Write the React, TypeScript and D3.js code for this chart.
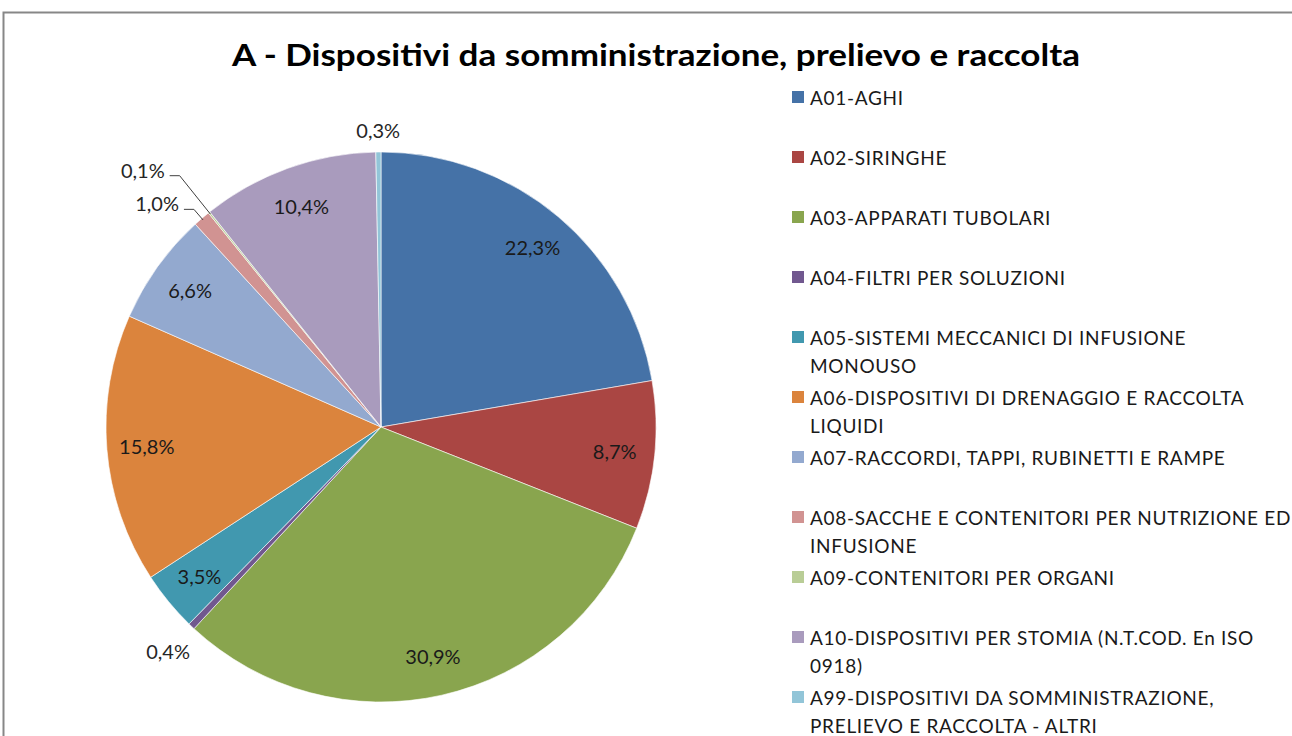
import React from "react";
import * as d3 from "d3";

const TITLE = "A - Dispositivi da somministrazione, prelievo e raccolta";

const categories = [
  "A01-AGHI",
  "A02-SIRINGHE",
  "A03-APPARATI TUBOLARI",
  "A04-FILTRI PER SOLUZIONI",
  "A05-SISTEMI MECCANICI DI INFUSIONE MONOUSO",
  "A06-DISPOSITIVI DI DRENAGGIO E RACCOLTA LIQUIDI",
  "A07-RACCORDI, TAPPI, RUBINETTI E RAMPE",
  "A08-SACCHE E CONTENITORI PER NUTRIZIONE ED INFUSIONE",
  "A09-CONTENITORI PER ORGANI",
  "A10-DISPOSITIVI PER STOMIA (N.T.COD. En ISO 0918)",
  "A99-DISPOSITIVI DA SOMMINISTRAZIONE, PRELIEVO E RACCOLTA - ALTRI",
];

const values = [22.3, 8.7, 30.9, 0.4, 3.5, 15.8, 6.6, 1.0, 0.1, 10.4, 0.3];

const colors = [
  "#4572A7",
  "#AA4643",
  "#89A54E",
  "#71588F",
  "#4198AF",
  "#DB843D",
  "#93A9CF",
  "#D19392",
  "#B9CD96",
  "#A99BBD",
  "#92C5D8",
];

// label placement rules (layout, not data)
const outsideOffset: Record<string, number> = {
  "A04-FILTRI PER SOLUZIONI": 34,
  "A99-DISPOSITIVI DA SOMMINISTRAZIONE, PRELIEVO E RACCOLTA - ALTRI": 22,
};
const leaderOffset: Record<string, number> = {
  "A08-SACCHE E CONTENITORI PER NUTRIZIONE ED INFUSIONE": 12,
  "A09-CONTENITORI PER ORGANI": 47,
};

const FONT = "Lato, 'Open Sans', sans-serif";
const W = 1292;
const H = 736;
const CX = 381;
const CY = 427;
const R = 275;
const LABEL_R = 235;
const LEGEND_FS = 19;
const LEGEND_LS = 0.7;
const LABEL_FS = 20;
const LEGEND_MAX_W = 484;

const fmt = (v: number) => v.toFixed(1).replace(".", ",") + "%";

function wrap(text: string, maxWidth: number): string[] {
  const canvas = document.createElement("canvas");
  const ctx = canvas.getContext("2d")! as any;
  ctx.font = `${LEGEND_FS}px Lato`;
  const measure = (s: string) => ctx.measureText(s).width + s.length * LEGEND_LS;
  const words = text.split(" ");
  const lines: string[] = [];
  let cur = "";
  for (const w of words) {
    const test = cur ? cur + " " + w : w;
    if (measure(test) > maxWidth && cur) {
      lines.push(cur);
      cur = w;
    } else cur = test;
  }
  if (cur) lines.push(cur);
  return lines;
}

export default function App() {
  const data = categories.map((c, i) => ({ name: c, value: values[i], color: colors[i] }));
  const pie = d3
    .pie<any>()
    .sort(null)
    .value((d) => d.value)
    .startAngle(0)
    .endAngle(2 * Math.PI);
  const arcs = pie(data);
  const arc = d3.arc<any>().innerRadius(0).outerRadius(R);
  const polar = (a: number, r: number): [number, number] => [Math.sin(a) * r, -Math.cos(a) * r];

  const legendY = d3.scaleLinear().domain([0, 1]).range([97, 157]);

  return (
    <svg
      width={W}
      height={H}
      style={{ position: "absolute", left: 0, top: 0, background: "#fff" }}
      fontFamily={FONT}
    >
      <rect x={0} y={0} width={W} height={H} fill="#fff" />
      <rect x={3.5} y={12.5} width={W + 20} height={H + 20} fill="none" stroke="#878787" strokeWidth={2} />
      <text
        x={656}
        y={66}
        textAnchor="middle"
        fontSize={30}
        fontWeight="bold"
        fill="#000"
        textLength={848}
        lengthAdjust="spacingAndGlyphs"
      >
        {TITLE}
      </text>

      <g transform={`translate(${CX},${CY})`}>
        {arcs.map((a, i) => (
          <path key={i} d={arc(a) as string} fill={a.data.color} stroke="#fff" strokeWidth={0.6} />
        ))}
        {arcs.map((a, i) => {
          const mid = (a.startAngle + a.endAngle) / 2;
          const name = a.data.name;
          const label = fmt(a.data.value);
          if (leaderOffset[name] !== undefined) {
            const [x0, y0] = polar(mid, R - 2);
            const [x1, y1] = polar(mid, R + leaderOffset[name]);
            const x2 = x1 - 10;
            return (
              <g key={"l" + i}>
                <polyline
                  points={`${x0},${y0} ${x1},${y1} ${x2},${y1}`}
                  fill="none"
                  stroke="#404040"
                  strokeWidth={1}
                />
                <text
                  x={x2 - 5}
                  y={y1 - 6}
                  textAnchor="end"
                  dominantBaseline="central"
                  fontSize={LABEL_FS}
                  fill="#262626"
                >
                  {label}
                </text>
              </g>
            );
          }
          if (outsideOffset[name] !== undefined) {
            const [x, y] = polar(mid, R + outsideOffset[name]);
            return (
              <text
                key={"l" + i}
                x={x}
                y={y}
                textAnchor="middle"
                dominantBaseline="central"
                fontSize={LABEL_FS}
                fill="#262626"
              >
                {label}
              </text>
            );
          }
          const [x, y] = polar(mid, LABEL_R);
          return (
            <text
              key={"l" + i}
              x={x}
              y={y}
              textAnchor="middle"
              dominantBaseline="central"
              fontSize={LABEL_FS}
              fill="#1a1a1a"
            >
              {label}
            </text>
          );
        })}
      </g>

      <g>
        {data.map((d, i) => {
          const y = legendY(i);
          const lines = wrap(d.name, LEGEND_MAX_W);
          return (
            <g key={"lg" + i}>
              <rect x={792} y={y - 6} width={12} height={12} fill={d.color} />
              {lines.map((ln, j) => (
                <text
                  key={j}
                  x={810}
                  y={y + j * 28.5}
                  dominantBaseline="central"
                  fontSize={LEGEND_FS}
                  letterSpacing={LEGEND_LS}
                  fill="#1a1a1a"
                >
                  {ln}
                </text>
              ))}
            </g>
          );
        })}
      </g>
    </svg>
  );
}
